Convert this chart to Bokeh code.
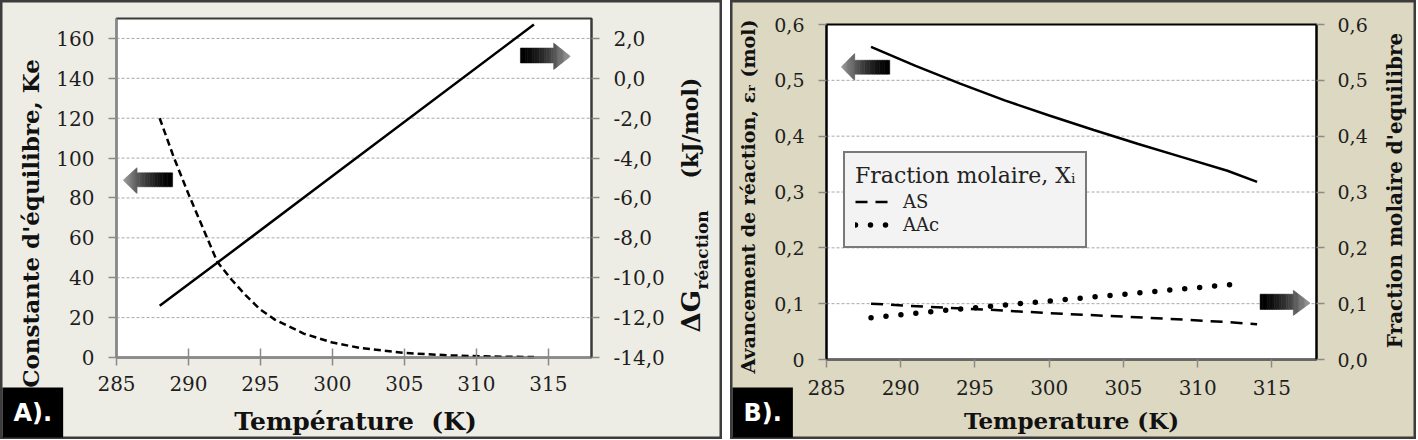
import math
from bokeh.plotting import figure
from bokeh.layouts import row
from bokeh.models import (Range1d, LinearAxis, FixedTicker, CustomJSTickFormatter,
                          Label, Legend, LegendItem)
from bokeh.embed import file_html
from bokeh.resources import INLINE

# ---------------- Panel A data ----------------
a_T_dg = [288, 292, 300, 314]
a_dg = [-11.4, -9.25, -4.9, 2.7]                       # kJ/mol (right axis)
a_T_ke = [288, 289, 290, 291, 292, 293, 294, 295, 296, 298, 300, 302, 305, 308, 311, 314]
a_ke = [120, 100, 82, 65, 48, 39, 31, 24, 19, 12, 7.5, 4.7, 2.3, 1.1, 0.5, 0.2]
a_x_ticks = [285, 290, 295, 300, 305, 310, 315]
a_yl_ticks = [0, 20, 40, 60, 80, 100, 120, 140, 160]
a_yr_ticks = [-14, -12, -10, -8, -6, -4, -2, 0, 2]
a_x_lim = (285, 318)
a_yl_lim = (0, 170)
a_yr_lim = (-14, 3)

# ---------------- Panel B data ----------------
b_T_eps = [288, 291, 294, 297, 300, 303, 306, 309, 312, 314]
b_eps = [0.560, 0.526, 0.494, 0.464, 0.437, 0.411, 0.386, 0.362, 0.338, 0.318]
b_T_as = [288, 292, 296, 300, 304, 308, 312, 314]
b_as = [0.100, 0.094, 0.089, 0.083, 0.078, 0.073, 0.067, 0.063]
b_T_aac = [288, 293, 298, 303, 308, 313]
b_aac = [0.075, 0.088, 0.100, 0.112, 0.124, 0.136]
b_x_ticks = [285, 290, 295, 300, 305, 310, 315]
b_y_ticks = [0, 0.1, 0.2, 0.3, 0.4, 0.5, 0.6]
b_x_lim = (285, 318)
b_y_lim = (0, 0.6)

SERIF = "DejaVu Serif"
A_BG = "#eeede5"
B_BG = "#ddd8c1"

# panel sizes and plot-box pixel positions (left, right, top, bottom) inside each panel
A_W, A_H = 722, 439
A_BOX = (116, 591, 18, 357)
B_X0 = 730
B_W, B_H = 686, 439
B_BOX = (96, 586, 24, 359)

# arrow decorations: tip_x, tip_y, head_base_x, head_bottom, head_top, tail_x, shaft_bottom, shaft_top
arrows_A = [(285.47, 88.9, 286.43, 82.2, 95.2, 288.9, 85.6, 92.6),
            (316.53, 151.0, 315.37, 144.4, 157.7, 313.06, 147.7, 155.2)]
arrows_B = [(286.0, 0.524, 286.9, 0.500, 0.548, 289.26, 0.511, 0.536),
            (317.57, 0.101, 316.44, 0.079, 0.124, 314.2, 0.0896, 0.117)]


def canvas_range(lim, p_lo, p_hi, p_a, p_b):
    """Range whose value lim[0] sits at pixel p_lo and lim[1] at p_hi; returns the values at p_a, p_b."""
    k = (lim[1] - lim[0]) / (p_hi - p_lo)
    return Range1d(lim[0] + (p_a - p_lo) * k, lim[0] + (p_b - p_lo) * k)


def gray(t):
    v = int(round(155 * t))
    return "#%02x%02x%02x" % (v, v, v)


def draw_arrow(p, spec, n=14):
    tx, ty, hx, hb, ht, sx, sb, st = spec
    xs, ys, cs = [], [], []
    total = abs(tx - sx)
    for i in range(n):
        x0 = sx + (hx - sx) * i / n
        x1 = sx + (hx - sx) * (i + 1.08) / n
        xs.append([x0, x1, x1, x0]); ys.append([sb, sb, st, st])
        cs.append(gray((abs((x0 + x1) / 2 - sx) / total) ** 1.6))
    for i in range(n):
        f0 = i / n; f1 = min(1.0, (i + 1.08) / n)
        x0 = hx + (tx - hx) * f0; x1 = hx + (tx - hx) * f1
        b0 = hb + (ty - hb) * f0; b1 = hb + (ty - hb) * f1
        t0 = ht + (ty - ht) * f0; t1 = ht + (ty - ht) * f1
        xs.append([x0, x1, x1, x0]); ys.append([b0, b1, t1, t0])
        cs.append(gray((abs((x0 + x1) / 2 - sx) / total) ** 1.6))
    p.patches(xs, ys, fill_color=cs, line_color=cs, line_width=0.5)


def style_axis(ax, ticks, fmt=None, tick_out=8, tick_in=0, standoff=14,
               line_color="#8a8a8a", size="20px"):
    ax.ticker = FixedTicker(ticks=ticks)
    if fmt is not None:
        ax.formatter = fmt
    ax.major_tick_out = tick_out
    ax.major_tick_in = tick_in
    ax.minor_tick_line_color = None
    ax.major_tick_line_color = "#8a8a8a"
    ax.major_tick_line_width = 1.5
    ax.axis_line_color = line_color
    ax.axis_line_width = 2
    ax.major_label_text_font = SERIF
    ax.major_label_text_font_size = size
    ax.major_label_text_color = "#1e1e1e"
    ax.major_label_standoff = standoff


def lab(p, text, x, y, size, angle=0.0, align="left", bold=True, color="#111111", font=SERIF):
    # x, y: centre line of the text, in pixels from the panel's bottom-left corner
    p.add_layout(Label(x=x, y=y, x_units="screen", y_units="screen", text=text,
                       angle=angle, text_align=align, text_baseline="middle",
                       text_font=font, text_font_size=size,
                       text_font_style="bold" if bold else "normal",
                       text_color=color))


def make_panel(W, H, box, xlim, ylim, bg):
    l, r, t, b = box
    p = figure(width=W, height=H, title=None,
               x_range=canvas_range(xlim, l, r, 0, W),
               y_range=canvas_range(ylim, b, t, H, 0),
               output_backend="svg", toolbar_location=None, min_border=0,
               background_fill_color=bg, border_fill_color=bg,
               outline_line_color="#3c3c3c", outline_line_width=4)
    p.grid.visible = False
    return p


comma1 = CustomJSTickFormatter(code="return tick.toFixed(1).replace('.', ',');")
comma1z = CustomJSTickFormatter(code="return tick == 0 ? '0' : tick.toFixed(1).replace('.', ',');")

# ======================= Panel A =======================
pA = make_panel(A_W, A_H, A_BOX, a_x_lim, a_yl_lim, A_BG)
pA.extra_y_ranges = {"dg": canvas_range(a_yr_lim, A_BOX[3], A_BOX[2], A_H, 0)}

pA.quad(left=a_x_lim[0], right=a_x_lim[1], bottom=a_yl_lim[0], top=a_yl_lim[1],
        fill_color="white", line_color="#3a3a3a", line_width=2, level="image")
gy = a_yl_ticks[1:]
pA.segment(x0=[a_x_lim[0]] * len(gy), x1=[a_x_lim[1]] * len(gy), y0=gy, y1=gy,
           line_color="#a8a8a8", line_dash="3 2", line_width=1, level="underlay")

ax_b = pA.xaxis[0]
ax_b.fixed_location = a_yl_lim[0]
ax_b.bounds = a_x_lim
style_axis(ax_b, a_x_ticks, tick_out=8, tick_in=9, standoff=10)
ax_l = pA.yaxis[0]
ax_l.fixed_location = a_x_lim[0]
ax_l.bounds = a_yl_lim
style_axis(ax_l, a_yl_ticks, standoff=14)
ax_r = LinearAxis(y_range_name="dg", fixed_location=a_x_lim[1], bounds=a_yr_lim)
pA.add_layout(ax_r, "right")
style_axis(ax_r, a_yr_ticks, fmt=comma1, standoff=14, line_color="#3a3a3a")

pA.line(a_T_dg, a_dg, y_range_name="dg", line_color="black", line_width=2.5)
pA.line(a_T_ke, a_ke, line_color="black", line_width=2.5, line_dash="7 4")
for spec in arrows_A:
    draw_arrow(pA, spec)

lab(pA, "Constante d'équilibre, Ke", 30, A_H - 223, "23px", angle=math.pi / 2, align="center")
lab(pA, "Température\u00a0\u00a0(K)", 355, A_H - 421, "25px", align="center")
lab(pA, "ΔG", 690, A_H - 332, "26px", angle=math.pi / 2)
lab(pA, "réaction", 701, A_H - 289, "17px", angle=math.pi / 2)
lab(pA, "(kJ/mol)", 689, A_H - 178, "22px", angle=math.pi / 2)
pA.add_layout(Label(x=2, y=2, x_units="screen", y_units="screen", text="A).",
                    text_color="white", text_font="DejaVu Sans", text_font_style="bold",
                    text_font_size="24px", background_fill_color="black",
                    background_fill_alpha=1.0, padding=11))

# ======================= Panel B =======================
pB = make_panel(B_W, B_H, B_BOX, b_x_lim, b_y_lim, B_BG)
pB.extra_y_ranges = {"frac": canvas_range(b_y_lim, B_BOX[3], B_BOX[2], B_H, 0)}

pB.quad(left=b_x_lim[0], right=b_x_lim[1], bottom=b_y_lim[0], top=b_y_lim[1],
        fill_color="white", line_color="black", line_width=2, level="image")
gy = b_y_ticks[1:-1]
pB.segment(x0=[b_x_lim[0]] * len(gy), x1=[b_x_lim[1]] * len(gy), y0=gy, y1=gy,
           line_color="#a8a8a8", line_dash="3 2", line_width=1, level="underlay")

bx_b = pB.xaxis[0]
bx_b.fixed_location = b_y_lim[0]
bx_b.bounds = b_x_lim
style_axis(bx_b, b_x_ticks, standoff=12, line_color="#666666")
bx_l = pB.yaxis[0]
bx_l.fixed_location = b_x_lim[0]
bx_l.bounds = b_y_lim
style_axis(bx_l, b_y_ticks, fmt=comma1z, standoff=14, size="19px", line_color="black")
bx_r = LinearAxis(y_range_name="frac", fixed_location=b_x_lim[1], bounds=b_y_lim)
pB.add_layout(bx_r, "right")
style_axis(bx_r, b_y_ticks, fmt=comma1, standoff=13, size="19px", line_color="black")

pB.line(b_T_eps, b_eps, line_color="black", line_width=2.5)
r_as = pB.line(b_T_as, b_as, y_range_name="frac", line_color="black", line_width=2.5,
               line_dash="12 8")
r_aac = pB.line(b_T_aac, b_aac, y_range_name="frac", line_color="black", line_width=5.5,
                line_dash="0 15", line_cap="round")
for spec in arrows_B:
    draw_arrow(pB, spec)

leg = Legend(items=[LegendItem(label="AS", renderers=[r_as]),
                    LegendItem(label="AAc", renderers=[r_aac])],
             location=(843 - B_X0, B_H - 248), title="Fraction molaire, Xᵢ",
             title_text_font=SERIF, title_text_font_size="22px",
             title_text_font_style="normal", title_text_color="#222222",
             title_standoff=2,
             label_text_font=SERIF, label_text_font_size="18px", label_text_color="#222222",
             label_height=23, glyph_height=23, glyph_width=40, label_standoff=8,
             spacing=0, padding=10, margin=0,
             border_line_color="black", border_line_width=2,
             background_fill_color="#f3f3f3", background_fill_alpha=1.0)
pB.add_layout(leg)

lab(pB, "Avancement de réaction, εᵣ (mol)", 747 - B_X0, B_H - 196, "19px",
    angle=math.pi / 2, align="center")
lab(pB, "Fraction molaire d'equilibre", 1394 - B_X0, B_H - 190, "20px",
    angle=math.pi / 2, align="center")
lab(pB, "Temperature (K)", 1071 - B_X0, B_H - 420, "23px", align="center")
pB.add_layout(Label(x=2, y=2, x_units="screen", y_units="screen", text="B).",
                    text_color="white", text_font="DejaVu Sans", text_font_style="bold",
                    text_font_size="24px", background_fill_color="black",
                    background_fill_alpha=1.0, padding=11))

layout = row(pA, pB, spacing=8)
open("out.html", "w").write(file_html(layout, INLINE))
